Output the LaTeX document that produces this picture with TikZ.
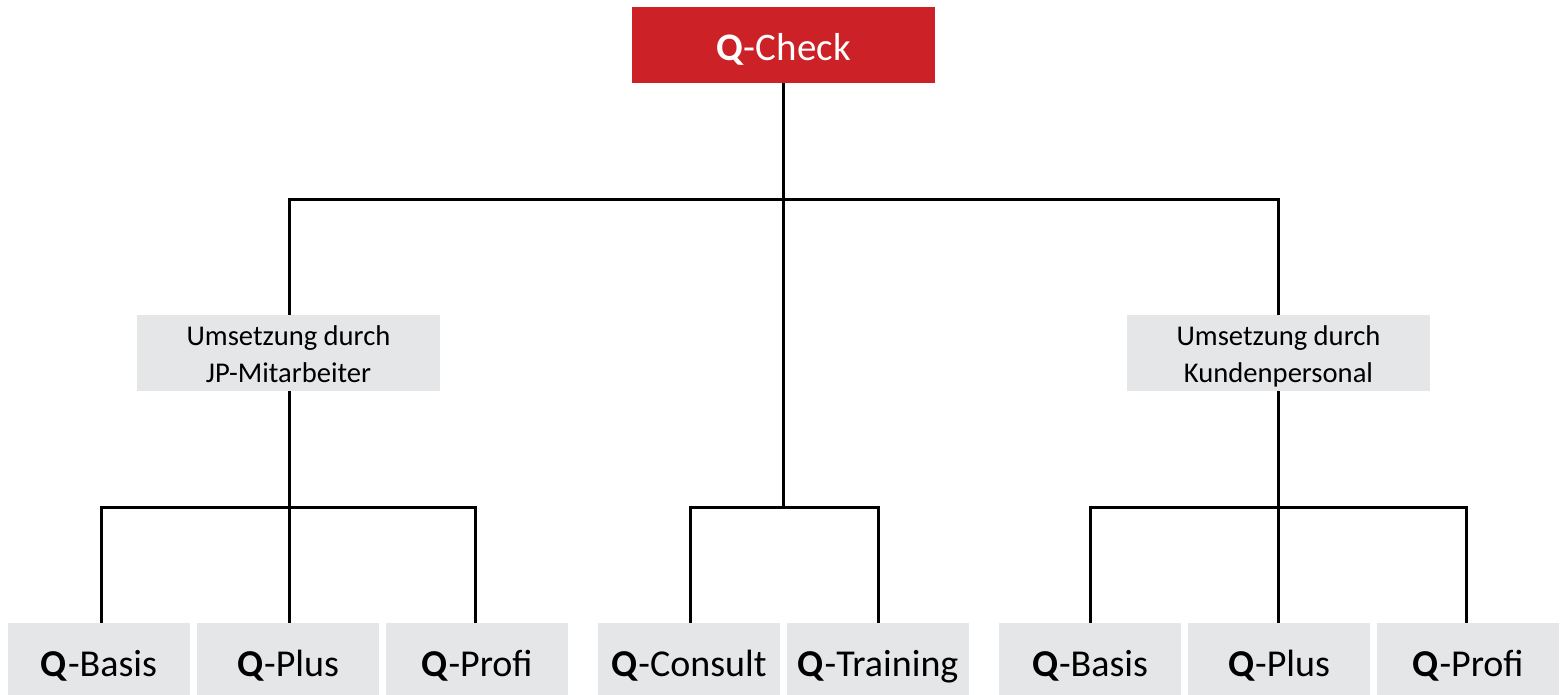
\documentclass[tikz,border=0pt]{standalone}
\usepackage{fontspec}
\setmainfont{Carlito}
\definecolor{qred}{HTML}{CC2127}
\definecolor{qgrey}{HTML}{E5E6E8}
\newcommand{\Qb}{\textbf{Q}}
\tikzset{
  x=1pt,y=-1pt,
  box/.style={anchor=center,inner sep=0pt,minimum height=#1,fill=qgrey,text=black},
  rootbox/.style={inner sep=0pt,minimum width=303pt,minimum height=76pt,fill=qred,text=white,text height=33pt,text depth=2pt,font=\fontsize{39}{39}\selectfont},
  midbox/.style={box=76pt,minimum width=303pt,text height=60pt,text depth=2pt,font=\fontsize{28.6}{37}\selectfont,align=center},
  leaf/.style={box=72pt,minimum width=182pt,text height=36pt,text depth=2pt,font=\fontsize{38}{39}\selectfont},
  link/.style={draw=black,line width=3pt,line cap=butt,line join=miter},
}
\begin{document}
\begin{tikzpicture}
\useasboundingbox (0,0) rectangle (1566,695);
\node[rootbox] (root) at (783.5,45) {\Qb-Check};
\node[midbox] (mL) at (288.5,353) {Umsetzung durch\\JP-Mitarbeiter};
\node[midbox] (mR) at (1278.5,353) {Umsetzung durch\\Kundenpersonal};
\node[leaf] (a1) at (99,659) {\Qb-Basis};
\node[leaf] (a2) at (288,659) {\Qb-Plus};
\node[leaf] (a3) at (477,659) {\Qb-Profi};
\node[leaf] (c1) at (689,659) {\Qb-Consult};
\node[leaf] (c2) at (878,659) {\Qb-Training};
\node[leaf] (b1) at (1090,659) {\Qb-Basis};
\node[leaf] (b2) at (1279,659) {\Qb-Plus};
\node[leaf] (b3) at (1468,659) {\Qb-Profi};
\coordinate (j0) at (783.5,199.5);
\coordinate (jL) at (289.5,507);
\coordinate (jC) at (783.5,507);
\coordinate (jR) at (1278.5,507);
% top level
\draw[link] (root.south -| j0) -- (jC);
\draw[link] (mL.north -| jL) -- (jL |- j0) -- (jR |- j0) -- (mR.north -| jR);
% left branch
\draw[link] (mL.south -| jL) -- (a2.north -| jL);
\draw[link] (a1.north -| 101,0) -- (101,507) -- (475.5,507) -- (a3.north -| 475.5,0);
% centre branch
\draw[link] (c1.north -| 690,0) -- (690,507) -- (878.5,507) -- (c2.north -| 878.5,0);
% right branch
\draw[link] (mR.south -| jR) -- (b2.north -| jR);
\draw[link] (b1.north -| 1090,0) -- (1090,507) -- (1466.5,507) -- (b3.north -| 1466.5,0);
\end{tikzpicture}
\end{document}
